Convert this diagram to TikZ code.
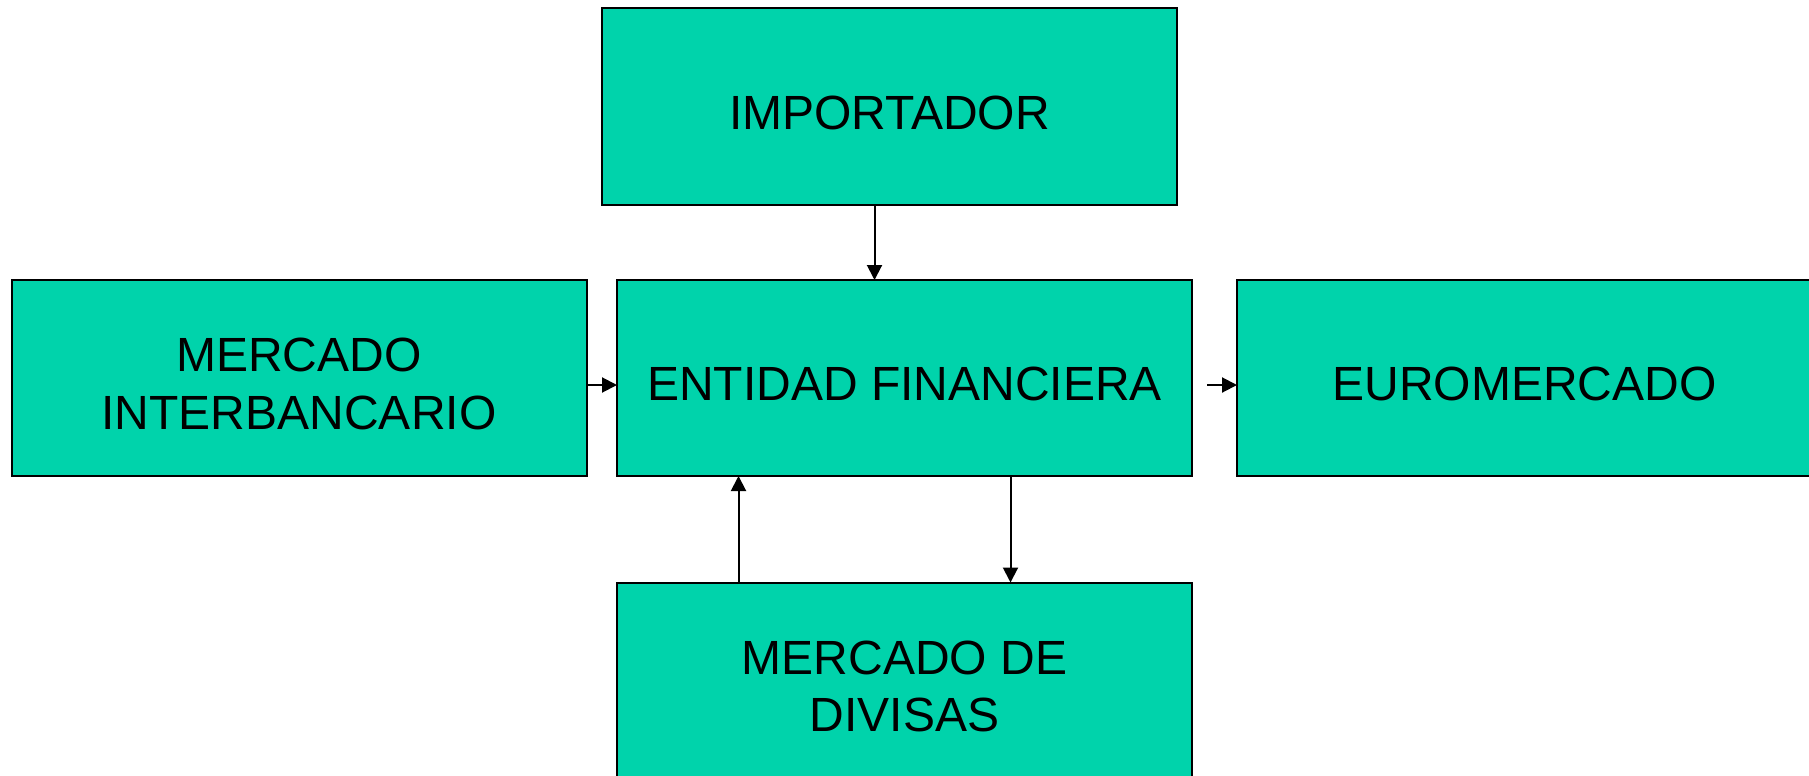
\documentclass[tikz,border=0pt]{standalone}
\usepackage{fontspec}
\setmainfont{Liberation Sans}
\usetikzlibrary{arrows.meta}
\definecolor{boxfill}{RGB}{0,211,171}
\begin{document}
\begin{tikzpicture}[x=1pt,y=-1pt,
  box/.style={draw=black,line width=2pt,fill=boxfill,minimum width=575pt,minimum height=196pt,
    inner sep=0pt,outer sep=0pt},
  boxtext/.style={align=center,inner sep=0pt,yshift=-6pt,font=\fontsize{48}{57.6}\selectfont},
  arr/.style={line width=2pt,-{Triangle[length=15pt,width=15pt]}}]
\useasboundingbox (0,0) rectangle (1809,776);
\node[box,label={[boxtext]center:IMPORTADOR}] (imp) at (889.5,106.5) {};
\node[box,label={[boxtext]center:{MERCADO\\INTERBANCARIO}}] (inter) at (299,378) {};
\node[box,label={[boxtext]center:ENTIDAD FINANCIERA}] (ent) at (904.5,378) {};
\node[box,label={[boxtext]center:EUROMERCADO}] (euro) at (1524.5,378) {};
\node[box,label={[boxtext]center:{MERCADO DE\\DIVISAS}}] (div) at (904.5,680.5) {};
\coordinate (impout) at ([xshift=-15pt]imp.south);
\draw[arr] (impout) -- (impout |- ent.north);
\coordinate (interout) at ([yshift=-7pt]inter.east);
\draw[arr] (interout) -- (interout -| ent.west);
\coordinate (eurostart) at ([xshift=15pt,yshift=-7pt]ent.east);
\draw[arr] (eurostart) -- (eurostart -| euro.west);
\coordinate (divout) at ([xshift=-166pt]div.north);
\draw[arr] (divout) -- (divout |- ent.south);
\coordinate (entout) at ([xshift=106pt]ent.south);
\draw[arr] (entout) -- (entout |- div.north);
\end{tikzpicture}
\end{document}
